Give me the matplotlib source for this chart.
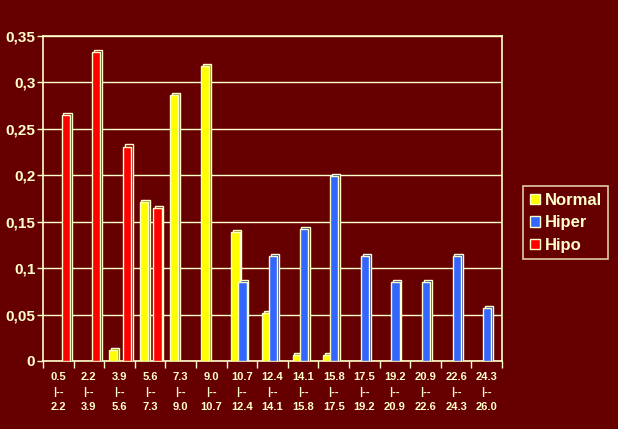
import matplotlib
matplotlib.use("Agg")
import matplotlib.pyplot as plt
import numpy as np
from matplotlib.patches import Patch

plt.rcParams['font.family'] = ['Liberation Sans', 'DejaVu Sans']

lows = ["0.5", "2.2", "3.9", "5.6", "7.3", "9.0", "10.7", "12.4", "14.1", "15.8",
        "17.5", "19.2", "20.9", "22.6", "24.3"]
highs = ["2.2", "3.9", "5.6", "7.3", "9.0", "10.7", "12.4", "14.1", "15.8", "17.5",
         "19.2", "20.9", "22.6", "24.3", "26.0"]
normal = [0, 0, 0.012, 0.171, 0.286, 0.318, 0.139, 0.052, 0.006, 0.006, 0, 0, 0, 0, 0]
hiper = [0, 0, 0, 0, 0, 0, 0.085, 0.113, 0.142, 0.199, 0.113, 0.085, 0.085, 0.113, 0.057]
hipo = [0.265, 0.333, 0.231, 0.165, 0, 0, 0, 0, 0, 0, 0, 0, 0, 0, 0]
yticks = [0, 0.05, 0.1, 0.15, 0.2, 0.25, 0.3, 0.35]
ytick_labels = ["0", "0,05", "0,1", "0,15", "0,2", "0,25", "0,3", "0,35"]

BG = "#660000"
CREAM = "#FFFFCC"

fig = plt.figure(figsize=(6.18, 4.29), dpi=100, facecolor=BG)
ax = fig.add_axes([43/618, 1-361/429, (502-43)/618, (361-36)/429])
ax.set_facecolor(BG)

n = len(lows)
x = np.arange(n)
w = 0.27
dx = 0.06
dy = 0.0022
series = [
    (normal, 0.29, "#FFFF00", "#8A8A00", "Normal"),
    (hiper, 0.52, "#3366FF", "#1A2F80", "Hiper"),
    (hipo, 0.74, "#FF0000", "#800000", "Hipo"),
]
for vals, off, col, dark, name in series:
    v = np.array(vals)
    m = v > 0
    ax.bar(x[m] + off + dx, v[m] + dy, width=w, color=dark, edgecolor=CREAM,
           linewidth=1.0, zorder=3)
    ax.bar(x[m] + off, v[m], width=w, color=col, edgecolor=CREAM,
           linewidth=1.0, zorder=4)

ax.set_xlim(0, n)
ax.set_ylim(0, 0.35)
ax.set_yticks(yticks)
ax.set_yticklabels(ytick_labels)
ax.set_xticks(np.arange(n + 1))
ax.set_xticklabels([])
ax.set_xticks(x + 0.5, minor=True)
ax.set_xticklabels([f"{a}\n|--\n{b}" for a, b in zip(lows, highs)], minor=True,
                   fontsize=8, fontweight="bold", color=CREAM, linespacing=1.6)
ax.tick_params(axis="x", which="minor", length=0, pad=8)
ax.tick_params(axis="x", which="major", length=5, color=CREAM, width=1)
ax.tick_params(axis="y", length=4, color=CREAM, width=1, labelsize=11,
               labelcolor=CREAM, pad=1.5)
for lab in ax.get_yticklabels():
    lab.set_fontweight("bold")

ax.grid(axis="y", color=CREAM, linewidth=1, zorder=1)
ax.set_axisbelow(True)
for s in ax.spines.values():
    s.set_color(CREAM)
    s.set_linewidth(1.2)

handles = [Patch(facecolor=c, edgecolor=CREAM, label=nm) for _, _, c, _, nm in series]
leg = fig.legend(handles=handles, loc="upper left", bbox_to_anchor=(523/618, 1-186/429),
                 frameon=True, facecolor=BG, edgecolor=CREAM, fancybox=False,
                 prop={"weight": "bold", "size": 12}, labelcolor=CREAM,
                 handlelength=0.6, handleheight=0.6, handletextpad=0.3,
                 borderpad=0.4, labelspacing=0.45, borderaxespad=0)
leg.get_frame().set_linewidth(1.2)

fig.savefig("out.png", dpi=100, facecolor=BG)
